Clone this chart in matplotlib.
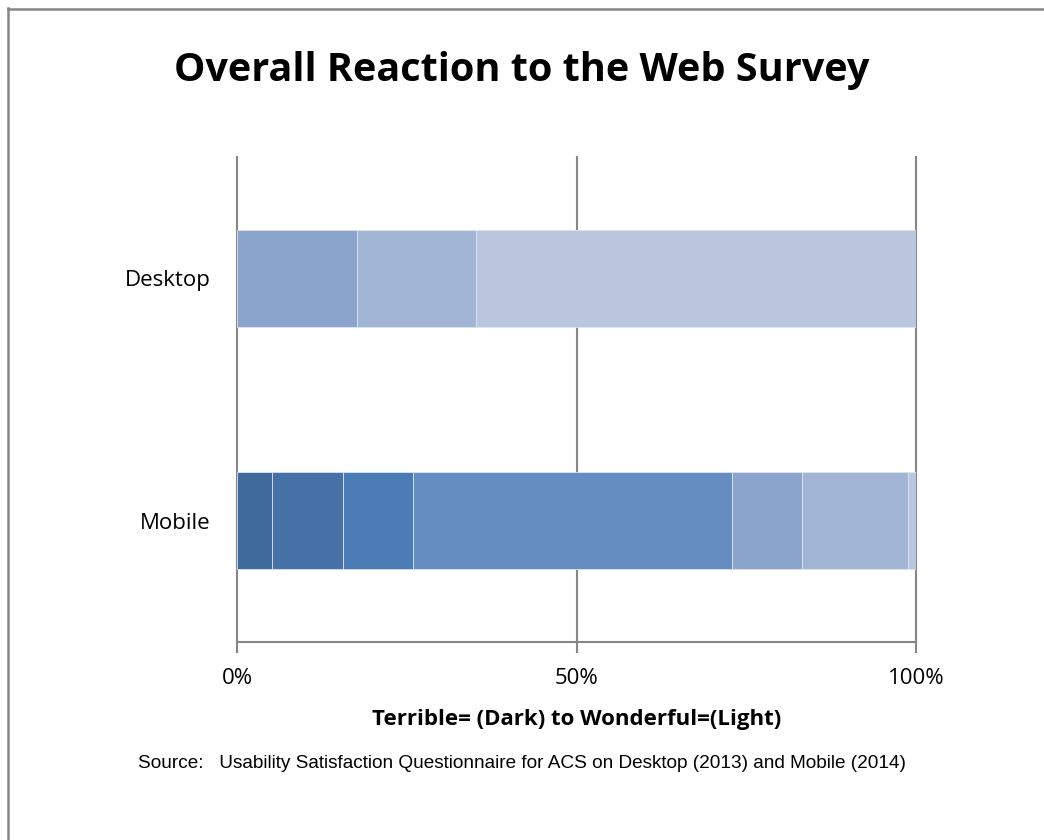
import matplotlib
matplotlib.use("Agg")
import matplotlib.pyplot as plt
from matplotlib.lines import Line2D

categories = ["Mobile", "Desktop"]
levels = ["1 Terrible", "2", "3", "4", "5", "6", "7 Wonderful"]
mobile_pct = [5.1, 10.5, 10.3, 47.0, 10.3, 15.6, 1.2]
desktop_pct = [0.0, 0.0, 0.0, 0.0, 17.6, 17.6, 64.8]
colors = ["#3F6A9B", "#4571A6", "#4A7BB5", "#668DC1", "#8AA4CB", "#A3B5D5", "#B9C6DE"]
xticks = [0, 50, 100]
xticklabels = ["0%", "50%", "100%"]

W, H = 1044, 840
fig = plt.figure(figsize=(W / 100, H / 100), dpi=100)
ax = fig.add_axes([237 / W, 1 - 642 / H, (916 - 237) / W, (642 - 157) / H])

series = [mobile_pct, desktop_pct]
for i, vals in enumerate(series):
    left = 0.0
    for j, v in enumerate(vals):
        if v > 0:
            ax.barh(i, v, left=left, height=0.4, color=colors[j],
                    edgecolor="#DDE3EF", linewidth=0.6, zorder=3)
        left += v

ax.set_xlim(0, 100)
ax.set_ylim(-0.5, 1.5)
ax.set_yticks([0, 1])
ax.set_yticklabels(categories, fontsize=16, family="Open Sans")
ax.set_xticks(xticks)
ax.set_xticklabels(xticklabels, fontsize=16, family="Open Sans")
ax.tick_params(axis="y", length=0, pad=19)
ax.tick_params(axis="x", length=8, width=1.5, color="#868686", pad=11)
ax.xaxis.grid(True, color="#868686", linewidth=1.5, zorder=0)
for gl in ax.get_xgridlines():
    gl.set_clip_on(False)
for s in ["top", "right"]:
    ax.spines[s].set_visible(False)
ax.spines["left"].set_visible(False)
ax.spines["bottom"].set_color("#868686")
ax.spines["bottom"].set_linewidth(1.5)

ax.set_xlabel("Terrible= (Dark) to Wonderful=(Light)", fontsize=16,
              fontweight="bold", family="Open Sans", labelpad=14)

fig.text(522 / W, 1 - 70 / H, "Overall Reaction to the Web Survey",
         ha="center", va="center", fontsize=28.5, fontweight="bold", family="Open Sans")
fig.text(522 / W, 1 - 763 / H,
         "Source:   Usability Satisfaction Questionnaire for ACS on Desktop (2013) and Mobile (2014)",
         ha="center", va="center", fontsize=13.7, family="Liberation Sans")

fig.add_artist(Line2D([7.5 / W, 7.5 / W], [0, 1 - 8 / H], transform=fig.transFigure,
                      color="#868686", linewidth=1.8))
fig.add_artist(Line2D([7.5 / W, 1], [1 - 8.5 / H, 1 - 8.5 / H], transform=fig.transFigure,
                      color="#868686", linewidth=1.8))

fig.savefig("out.png", dpi=100)
